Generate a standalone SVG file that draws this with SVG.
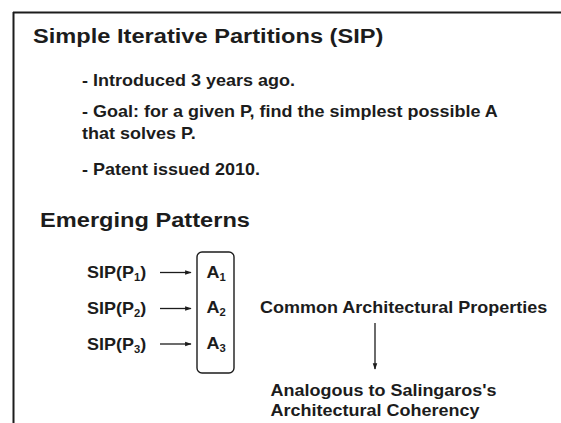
<svg xmlns="http://www.w3.org/2000/svg" width="561" height="423" viewBox="0 0 561 423">
  <defs>
    <style>
      text { font-family: "Liberation Sans", Arial, sans-serif; font-weight: bold; fill: #1c1c1c; }
      .h1 { font-size: 21px; }
      .b { font-size: 16px; }
      .sub { font-size: 10px; }
      .edge { stroke: #1c1c1c; stroke-width: 1.3; fill: none; }
    </style>
    <marker id="arr" viewBox="0 0 10 10" refX="9" refY="5" markerWidth="5" markerHeight="5" orient="auto">
      <path d="M0,1.5 L10,5 L0,8.5 Z" fill="#1c1c1c"/>
    </marker>
  </defs>
  <rect width="561" height="423" fill="#ffffff"/>
  <!-- slide frame: top and left edges -->
  <path d="M13,12.5 H561 M13.5,12 V423" stroke="#1c1c1c" stroke-width="2" fill="none"/>

  <!-- all lettering is set slightly wide (scaleX 1.125) -->
  <g id="title">
    <text class="h1" transform="translate(33,42.5) scale(1.125,1)">Simple Iterative Partitions (SIP)</text>
  </g>
  <g id="bullets">
    <text class="b" transform="translate(82,85.5) scale(1.125,1)">- Introduced 3 years ago.</text>
    <text class="b" transform="translate(82,116.7) scale(1.125,1)">- Goal: for a given P, find the simplest possible A</text>
    <text class="b" transform="translate(82,139.3) scale(1.125,1)">that solves P.</text>
    <text class="b" transform="translate(82,175) scale(1.125,1)">- Patent issued 2010.</text>
  </g>
  <g id="subtitle">
    <text class="h1" transform="translate(40,227) scale(1.125,1)">Emerging Patterns</text>
  </g>

  <g id="sip1"><text class="b" transform="translate(87,278) scale(1.125,1)">SIP(P<tspan class="sub" dy="3">1</tspan><tspan dy="-3">)</tspan></text></g>
  <g id="sip2"><text class="b" transform="translate(87,314) scale(1.125,1)">SIP(P<tspan class="sub" dy="3">2</tspan><tspan dy="-3">)</tspan></text></g>
  <g id="sip3"><text class="b" transform="translate(87,349.5) scale(1.125,1)">SIP(P<tspan class="sub" dy="3">3</tspan><tspan dy="-3">)</tspan></text></g>

  <g id="results">
    <rect x="197" y="252" width="37" height="121" rx="5" fill="none" stroke="#1c1c1c" stroke-width="1.4"/>
    <text class="b" transform="translate(206.5,278) scale(1.125,1)">A<tspan class="sub" dy="3">1</tspan></text>
    <text class="b" transform="translate(206.5,313) scale(1.125,1)">A<tspan class="sub" dy="3">2</tspan></text>
    <text class="b" transform="translate(206.5,349) scale(1.125,1)">A<tspan class="sub" dy="3">3</tspan></text>
  </g>

  <g id="properties">
    <text class="b" transform="translate(260,313.3) scale(1.125,1)">Common Architectural Properties</text>
  </g>
  <g id="coherency">
    <text class="b" transform="translate(270.5,396) scale(1.125,1)">Analogous to Salingaros's</text>
    <text class="b" transform="translate(270.5,416) scale(1.125,1)">Architectural Coherency</text>
  </g>

  <g id="connectors">
    <line class="edge" x1="160" y1="272.5" x2="191" y2="272.5" marker-end="url(#arr)"/>
    <line class="edge" x1="160" y1="308.5" x2="191" y2="308.5" marker-end="url(#arr)"/>
    <line class="edge" x1="160" y1="344" x2="191" y2="344" marker-end="url(#arr)"/>
    <line class="edge" x1="375" y1="323" x2="375" y2="369" marker-end="url(#arr)"/>
  </g>
</svg>
